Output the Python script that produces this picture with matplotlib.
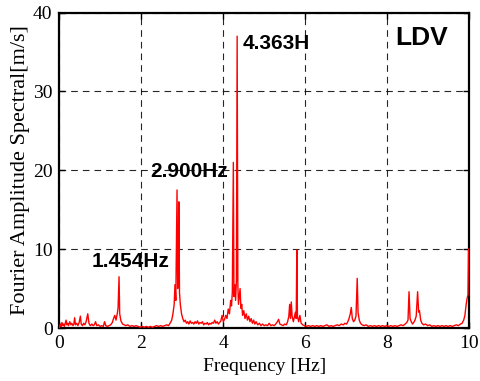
import matplotlib
matplotlib.use('Agg')
import matplotlib.pyplot as plt

# Fourier amplitude spectrum of the LDV record (frequency in Hz, amplitude in m/s)
freq_hz = [
    0.00, 0.02, 0.04, 0.06, 0.08, 0.10, 0.12, 0.14, 0.16, 0.18, 0.20, 0.22,
    0.25, 0.28, 0.30, 0.33, 0.35, 0.37, 0.39, 0.42, 0.45, 0.48, 0.51, 0.53,
    0.56, 0.59, 0.62, 0.65, 0.69, 0.72, 0.75, 0.79, 0.82, 0.85, 0.88, 0.91,
    0.95, 0.99, 1.03, 1.07, 1.10, 1.13, 1.17, 1.21, 1.25, 1.29, 1.32, 1.35,
    1.38, 1.41, 1.43, 1.454, 1.47, 1.50, 1.54, 1.58, 1.62, 1.67, 1.72, 1.77,
    1.82, 1.87, 1.92, 1.97, 2.02, 2.07, 2.12, 2.17, 2.22, 2.27, 2.32, 2.37,
    2.42, 2.47, 2.52, 2.57, 2.62, 2.66, 2.70, 2.74, 2.77, 2.80, 2.82, 2.84,
    2.87, 2.885, 2.90, 2.915, 2.93, 2.95, 2.98, 3.01, 3.04, 3.07, 3.10, 3.13,
    3.16, 3.19, 3.22, 3.25, 3.28, 3.31, 3.34, 3.37, 3.40, 3.43, 3.46, 3.49,
    3.52, 3.55, 3.58, 3.61, 3.64, 3.67, 3.70, 3.73, 3.76, 3.79, 3.82, 3.85,
    3.88, 3.91, 3.94, 3.97, 4.00, 4.03, 4.06, 4.09, 4.12, 4.15, 4.18, 4.20,
    4.22, 4.245, 4.26, 4.28, 4.30, 4.32, 4.338, 4.355, 4.37, 4.39, 4.41, 4.43,
    4.45, 4.47, 4.50, 4.53, 4.56, 4.59, 4.62, 4.65, 4.68, 4.71, 4.74, 4.77,
    4.80, 4.84, 4.88, 4.92, 4.96, 5.00, 5.04, 5.08, 5.12, 5.16, 5.20, 5.24,
    5.28, 5.32, 5.35, 5.38, 5.42, 5.46, 5.50, 5.54, 5.57, 5.60, 5.62, 5.64,
    5.66, 5.68, 5.71, 5.74, 5.76, 5.78, 5.795, 5.81, 5.84, 5.87, 5.90, 5.94,
    5.98, 6.03, 6.08, 6.13, 6.18, 6.23, 6.28, 6.33, 6.38, 6.43, 6.48, 6.53,
    6.58, 6.63, 6.68, 6.73, 6.78, 6.83, 6.88, 6.93, 6.97, 7.01, 7.04, 7.07,
    7.10, 7.125, 7.15, 7.18, 7.21, 7.24, 7.27, 7.29, 7.32, 7.35, 7.39, 7.44,
    7.49, 7.54, 7.59, 7.64, 7.69, 7.74, 7.79, 7.84, 7.89, 7.94, 7.99, 8.04,
    8.09, 8.14, 8.19, 8.24, 8.29, 8.34, 8.39, 8.44, 8.48, 8.51, 8.535, 8.56,
    8.59, 8.62, 8.65, 8.68, 8.71, 8.745, 8.77, 8.79, 8.82, 8.85, 8.89, 8.94,
    8.99, 9.04, 9.09, 9.14, 9.19, 9.24, 9.29, 9.34, 9.39, 9.44, 9.49, 9.54,
    9.59, 9.64, 9.69, 9.74, 9.79, 9.83, 9.87, 9.90, 9.93, 9.955, 9.975, 9.988,
    10.00,
]
amp_ms = [
    0.1, 0.5, 0.2, 0.7, 0.3, 0.5, 0.2, 0.6, 1.0, 0.4, 0.6, 0.3,
    0.8, 0.4, 0.6, 0.3, 0.5, 1.3, 0.4, 0.6, 0.3, 0.7, 1.5, 0.5,
    0.3, 0.6, 0.4, 0.8, 1.8, 0.6, 0.3, 0.5, 0.3, 0.4, 0.8, 0.3,
    0.4, 0.2, 0.3, 0.2, 0.8, 0.3, 0.2, 0.3, 0.4, 0.7, 1.2, 1.6,
    1.0, 1.8, 2.5, 6.5, 1.8, 0.9, 0.5, 0.4, 0.3, 0.4, 0.2, 0.3,
    0.2, 0.3, 0.2, 0.1, 0.2, 0.1, 0.2, 0.1, 0.2, 0.1, 0.2, 0.3,
    0.2, 0.3, 0.2, 0.3, 0.4, 0.3, 0.6, 1.0, 1.8, 3.0, 5.5, 3.5,
    17.5, 5.0, 7.5, 16.0, 4.5, 3.0, 1.8, 1.2, 0.8, 1.0, 0.6, 0.8,
    0.5, 0.9, 0.6, 0.7, 0.5, 0.8, 0.6, 0.9, 0.5, 0.7, 0.6, 0.8,
    0.4, 0.6, 0.5, 0.7, 0.4, 0.6, 0.5, 0.7, 0.6, 1.0, 0.6, 0.8,
    0.5, 0.7, 0.9, 1.6, 0.8, 1.1, 1.6, 1.2, 2.4, 1.8, 3.5, 2.8,
    4.5, 21.0, 4.0, 5.5, 3.5, 6.0, 37.0, 5.5, 3.0, 4.0, 5.0, 2.5,
    3.0, 1.6, 2.2, 1.2, 1.8, 1.0, 1.5, 0.8, 1.2, 0.6, 1.0, 0.5,
    0.8, 0.4, 0.6, 0.3, 0.5, 0.3, 0.4, 0.3, 0.6, 0.3, 0.4, 0.3,
    0.5, 0.8, 1.1, 0.5, 0.4, 0.3, 0.5, 0.4, 0.8, 1.5, 3.0, 1.2,
    3.3, 1.5, 0.8, 1.5, 2.0, 1.2, 9.9, 1.5, 0.8, 1.6, 0.6, 0.4,
    0.3, 0.2, 0.3, 0.2, 0.3, 0.2, 0.3, 0.2, 0.3, 0.2, 0.3, 0.4,
    0.2, 0.3, 0.2, 0.3, 0.4, 0.3, 0.5, 0.4, 0.6, 0.5, 0.8, 1.2,
    1.8, 2.6, 1.2, 0.8, 1.0, 1.5, 6.3, 2.0, 1.0, 0.6, 0.4, 0.3,
    0.4, 0.2, 0.3, 0.2, 0.3, 0.2, 0.3, 0.2, 0.3, 0.2, 0.3, 0.2,
    0.3, 0.2, 0.3, 0.2, 0.3, 0.4, 0.3, 0.5, 0.7, 1.0, 4.6, 1.2,
    0.8, 0.5, 0.7, 1.0, 1.5, 4.6, 2.0, 2.2, 1.0, 0.6, 0.4, 0.5,
    0.3, 0.4, 0.2, 0.3, 0.2, 0.3, 0.2, 0.3, 0.2, 0.3, 0.2, 0.3,
    0.2, 0.3, 0.4, 0.3, 0.5, 0.6, 1.0, 1.6, 3.0, 3.8, 4.2, 10.0,
    10.0,
]

# peak labels: (text, x, y) in data coordinates
peak_labels = [
    ('1.454Hz', 0.79, 7.7),
    ('2.900Hz', 2.21, 19.1),
    ('4.363H', 4.48, 35.4),
]
x_ticks = [0, 2, 4, 6, 8, 10]
y_ticks = [0, 10, 20, 30, 40]

serif = ['Liberation Serif', 'DejaVu Serif']
sans = ['Liberation Sans', 'DejaVu Sans']

fig = plt.figure(figsize=(4.81, 3.81), dpi=100)
fig.patch.set_facecolor('white')
ax = fig.add_axes([0.1237, 0.1391, 0.8514, 0.828])

ax.plot(freq_hz, amp_ms, color='#ff0000', lw=1.0, zorder=3)

ax.set_xlim(0, 10)
ax.set_ylim(0, 40)
ax.set_xticks(x_ticks)
ax.set_yticks(y_ticks)

# dashed grid on the major ticks
ax.grid(True, color='black', linestyle=(0, (6, 4.5)), lw=0.8, alpha=0.85)
ax.set_axisbelow(True)

for side in ['left', 'right', 'top', 'bottom']:
    ax.spines[side].set_linewidth(1.6)
    ax.spines[side].set_zorder(2)

ax.tick_params(direction='in', length=4, width=1, top=True, right=True,
               labelsize=14, pad=5)
for lab in ax.get_xticklabels() + ax.get_yticklabels():
    lab.set_family(serif)

ax.set_xlabel('Frequency [Hz]', fontsize=14, family=serif, labelpad=4)
ax.set_ylabel('Fourier Amplitude Spectral[m/s]', fontsize=16, family=serif, labelpad=2)

for text, x, y in peak_labels:
    ax.text(x, y, text, fontsize=15, fontweight='bold', family=sans,
            ha='left', va='baseline', color='black', zorder=6)
ax.text(8.21, 35.9, 'LDV', fontsize=19, fontweight='bold', family=sans,
        ha='left', va='baseline', color='black', zorder=6)

fig.savefig('out.png', dpi=100, facecolor=fig.get_facecolor())
plt.close(fig)
